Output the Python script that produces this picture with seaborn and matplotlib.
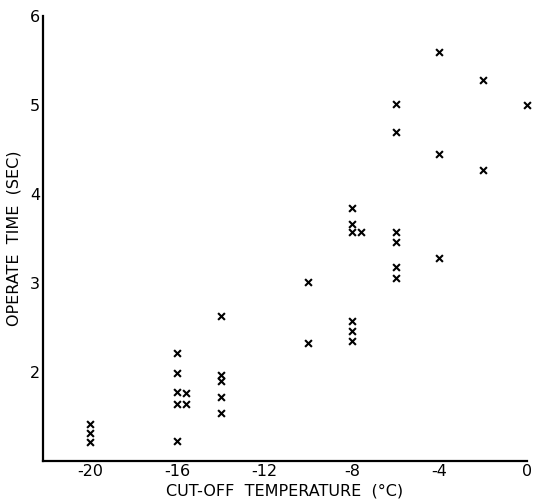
import matplotlib
matplotlib.use('Agg')
import pandas as pd
import matplotlib.pyplot as plt
import seaborn as sns

sns.set_theme(style='white')
plt.rcParams['font.family'] = ['DejaVu Sans']

#^ Data ============================================================================================>
temperature = [-20, -20, -20,
               -16, -16, -16, -15.6, -16, -15.6, -16,
               -14, -14, -14, -14, -14,
               -10, -10,
               -8, -8, -8, -7.6, -8, -8, -8,
               -6, -6, -6, -6, -6, -6,
               -4, -4, -4,
               -2, -2,
               0]
operate_time = [1.42, 1.32, 1.22,
                2.22, 1.99, 1.78, 1.77, 1.64, 1.64, 1.23,
                2.63, 1.97, 1.90, 1.72, 1.54,
                3.01, 2.33,
                3.84, 3.66, 3.57, 3.57, 2.57, 2.46, 2.35,
                5.01, 4.70, 3.57, 3.46, 3.18, 3.06,
                5.60, 4.45, 3.28,
                5.28, 4.27,
                5.00]
x_ticks = [-20, -16, -12, -8, -4, 0]
y_ticks = [2, 3, 4, 5, 6]

df = pd.DataFrame({'temp': temperature, 'time': operate_time})

#^ Plot ============================================================================================>
fig = plt.figure(figsize=(5.34, 5.04), dpi=100)
ax = fig.add_axes([0.0805, 0.085, 0.906, 0.883])

sns.scatterplot(data=df, x='temp', y='time', marker='x', color='black',
                s=24, linewidth=1.5, ax=ax, legend=False, clip_on=False)

ax.set_xlim(-22.15, 0)
ax.set_ylim(1, 6)
ax.set_xticks(x_ticks)
ax.set_xticklabels([str(t) for t in x_ticks])
ax.set_yticks(y_ticks)
ax.tick_params(direction='in', length=4, width=1.2, labelsize=11.5, colors='black', pad=2)
for s in ['top', 'right']:
    ax.spines[s].set_visible(False)
for s in ['left', 'bottom']:
    ax.spines[s].set_color('black')
    ax.spines[s].set_linewidth(1.6)

ax.set_xlabel('CUT-OFF  TEMPERATURE  (°C)', fontsize=11.5, color='black', labelpad=3)
ax.set_ylabel('OPERATE  TIME  (SEC)', fontsize=11.5, color='black', labelpad=6)

fig.savefig('out.png', dpi=100)
